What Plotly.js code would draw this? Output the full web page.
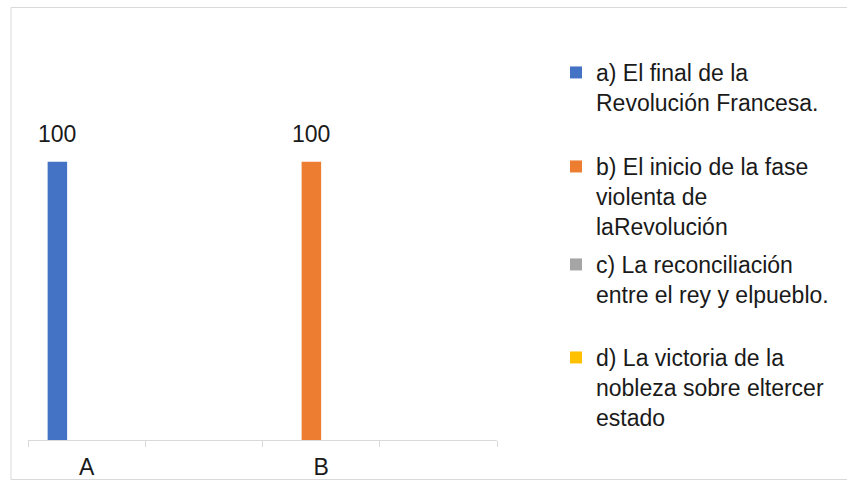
<!DOCTYPE html>
<html>
<head>
<meta charset="utf-8">
<script src="https://cdn.plot.ly/plotly-3.0.1.min.js"></script>
<style>
  html, body { margin: 0; padding: 0; background: #ffffff; }
  #chart { width: 847px; height: 481px; }
</style>
</head>
<body>
<div id="chart"></div>
<script>
// ---- data ----
const categories = ['A', ' ', 'B', '  '];
const tickLabels = ['A', '', 'B', ''];
const seriesNames = [
  'a) El final de la<br>Revolución Francesa.',
  'b) El inicio de la fase<br>violenta de<br>laRevolución',
  'c) La reconciliación<br>entre el rey y elpueblo.',
  'd) La victoria de la<br>nobleza sobre eltercer<br>estado'
];
const seriesA = [100, null, null, null];
const seriesB = [null, null, 100, null];
const seriesC = [null, null, null, null];
const seriesD = [null, null, null, null];
const seriesColors = ['#4472C4', '#ED7D31', '#A5A5A5', '#FFC000'];

// ---- layout constants ----
const W = 847, H = 481;
const mL = 28, mR = 350, mT = 106, mB = 41;
const plotW = W - mL - mR, plotH = H - mT - mB;
const bargap = 0.335;
const yMax = 120;
const FONT = 'Liberation Sans, Arial, sans-serif';
const TEXT_COLOR = '#1a1a1a';

const allSeries = [seriesA, seriesB, seriesC, seriesD];
const legendIds = ['legend', 'legend2', 'legend3', 'legend4'];

const traces = allSeries.map((vals, i) => ({
  type: 'bar',
  name: seriesNames[i],
  x: categories,
  y: vals,
  marker: { color: seriesColors[i] },
  legend: legendIds[i],
  hoverinfo: 'skip'
}));

// data labels above bars, positioned from the data via the axes
const nSeries = allSeries.length;
const catPx = plotW / categories.length;
const barPx = catPx * (1 - bargap) / nSeries;
const annotations = [];
allSeries.forEach((vals, i) => {
  vals.forEach((v, j) => {
    if (v !== null && v !== undefined) {
      annotations.push({
        x: categories[j], y: v, xref: 'x', yref: 'y',
        text: String(v), showarrow: false,
        xshift: (i - (nSeries - 1) / 2) * barPx,
        yanchor: 'bottom', yshift: 13,
        font: { family: FONT, size: 23, color: TEXT_COLOR }
      });
    }
  });
});

function px2py(py) { return (H - mB - py) / plotH; }
function px2px(px) { return (px - mL) / plotW; }

const legendX = px2px(556);
const legendTops = [51, 145, 243, 336];
const legendBase = {
  x: legendX, xanchor: 'left', yanchor: 'top',
  font: { family: FONT, size: 23, color: TEXT_COLOR },
  bgcolor: 'rgba(0,0,0,0)', borderwidth: 0,
  valign: 'top', itemclick: false, itemdoubleclick: false
};

const layout = {
  width: W, height: H,
  margin: { l: mL, r: mR, t: mT, b: mB, pad: 0 },
  paper_bgcolor: '#ffffff',
  plot_bgcolor: '#ffffff',
  barmode: 'group',
  bargap: bargap,
  bargroupgap: 0,
  showlegend: true,
  xaxis: {
    type: 'category',
    categoryorder: 'array',
    categoryarray: categories,
    tickvals: categories,
    ticktext: tickLabels,
    range: [-0.5, categories.length - 0.5],
    showline: true, linecolor: '#d9d9d9', linewidth: 1,
    ticks: 'outside', tickson: 'boundaries', ticklen: 6, tickcolor: '#d9d9d9', tickwidth: 1,
    ticklabelstandoff: 6,
    showgrid: false, zeroline: false,
    tickfont: { family: FONT, size: 23, color: TEXT_COLOR },
    fixedrange: true
  },
  yaxis: {
    range: [0, yMax],
    visible: false,
    showgrid: false, zeroline: false,
    fixedrange: true
  },
  annotations: annotations,
  shapes: [{
    type: 'rect', xref: 'paper', yref: 'paper',
    x0: px2px(11), x1: px2px(W + 20),
    y0: px2py(479.5), y1: px2py(7.5),
    line: { color: '#d9d9d9', width: 1 },
    fillcolor: 'rgba(0,0,0,0)', layer: 'below'
  }]
};
legendIds.forEach((id, i) => {
  layout[id] = Object.assign({}, legendBase, { y: px2py(legendTops[i]) });
});

Plotly.newPlot('chart', traces, layout, { displayModeBar: false, staticPlot: true });
</script>
</body>
</html>
